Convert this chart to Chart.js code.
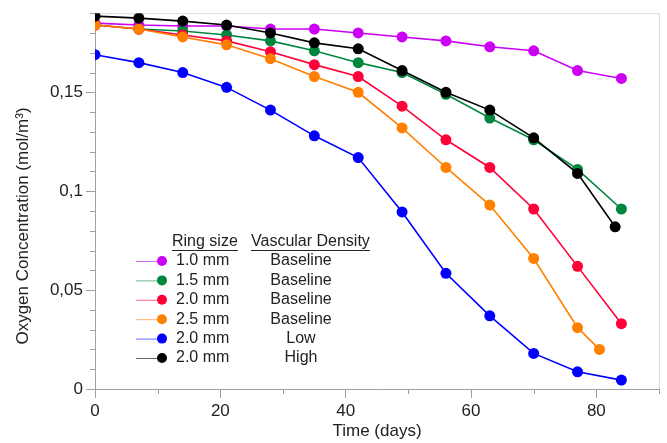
<!DOCTYPE html>
<html lang="en">
<head>
    <meta charset="UTF-8">
    <title>Oxygen Concentration</title>
    <script src="https://cdn.jsdelivr.net/npm/chart.js"></script>
    <style>
        html, body { margin: 0; padding: 0; background: #fff; }
        #wrap { width: 667px; height: 443px; }
    </style>
</head>
<body>
    <div id="wrap"><canvas id="o2Chart" width="667" height="443"></canvas></div>
    <script>
        // sampling days (a few runs stop a little early)
        const days = [0, 7, 14, 21, 28, 35, 42, 49, 56, 63, 70, 77, 84];
        const daysOrange = [0, 7, 14, 21, 28, 35, 42, 49, 56, 63, 70, 77, 80.5];
        const daysBlack = [0, 7, 14, 21, 28, 35, 42, 49, 56, 63, 70, 77, 83];

        const ring10Base = [0.185, 0.184, 0.1835, 0.1835, 0.182, 0.182, 0.180, 0.178, 0.176, 0.173, 0.171, 0.161, 0.157];
        const ring15Base = [0.184, 0.182, 0.181, 0.179, 0.176, 0.171, 0.165, 0.160, 0.149, 0.137, 0.126, 0.111, 0.091];
        const ring20Base = [0.184, 0.182, 0.179, 0.176, 0.1705, 0.164, 0.158, 0.143, 0.126, 0.112, 0.091, 0.062, 0.033];
        const ring25Base = [0.184, 0.182, 0.178, 0.174, 0.167, 0.158, 0.150, 0.132, 0.112, 0.093, 0.066, 0.031, 0.020];
        const ring20Low = [0.169, 0.165, 0.160, 0.1525, 0.141, 0.128, 0.117, 0.0895, 0.0585, 0.037, 0.018, 0.0087, 0.0045];
        const ring20High = [0.1885, 0.1875, 0.186, 0.184, 0.180, 0.175, 0.172, 0.161, 0.150, 0.141, 0.127, 0.109, 0.082];

        const ringSizes = ['1.0 mm', '1.5 mm', '2.0 mm', '2.5 mm', '2.0 mm', '2.0 mm'];
        const densities = ['Baseline', 'Baseline', 'Baseline', 'Baseline', 'Low', 'High'];
        const colors = ['#cc00f5', '#00873e', '#ff0038', '#ff8000', '#0000ff', '#000000'];

        const xTicks = [0, 20, 40, 60, 80];
        const yTicks = [0, 0.05, 0.1, 0.15];

        const seriesX = [days, days, days, daysOrange, days, daysBlack];
        const seriesY = [ring10Base, ring15Base, ring20Base, ring25Base, ring20Low, ring20High];

        const FONT = '"Liberation Sans", Arial, sans-serif';
        const AXIS = '#a0a0a0';

        // extra bits the built-in options can't do: minor ticks, light frame,
        // offset y title and the two-column legend
        const extras = {
            id: 'extras',
            beforeDatasetsDraw(chart) {
                const { ctx, chartArea: a } = chart;
                ctx.save();
                ctx.strokeStyle = '#dcdcdc';
                ctx.lineWidth = 1;
                ctx.beginPath();
                ctx.moveTo(a.left, a.top + 0.5);
                ctx.lineTo(a.right + 0.5, a.top + 0.5);
                ctx.lineTo(a.right + 0.5, a.bottom);
                ctx.stroke();

                ctx.strokeStyle = AXIS;
                const xs = chart.scales.x, ys = chart.scales.y;
                ctx.beginPath();
                for (let v = 10; v <= 90; v += 20) {
                    const px = Math.round(xs.getPixelForValue(v)) + 0.5;
                    ctx.moveTo(px, a.bottom);
                    ctx.lineTo(px, a.bottom + 5);
                }
                for (let k = 1; k <= 19; k++) {
                    if (k % 5 === 0) continue;
                    const py = Math.round(ys.getPixelForValue(k / 100)) + 0.5;
                    ctx.moveTo(a.left - 5, py);
                    ctx.lineTo(a.left, py);
                }
                ctx.stroke();

                ctx.fillStyle = '#222';
                ctx.font = '17px ' + FONT;
                ctx.textAlign = 'center';
                ctx.textBaseline = 'middle';
                ctx.translate(23, 226);
                ctx.rotate(-Math.PI / 2);
                ctx.fillText('Oxygen Concentration (mol/m³)', 0, 0);
                ctx.restore();
            },
            afterDatasetsDraw(chart) {
                const { ctx } = chart;
                ctx.save();
                ctx.font = '16px ' + FONT;
                ctx.fillStyle = '#222';
                ctx.textBaseline = 'middle';

                ctx.textAlign = 'left';
                ctx.fillText('Ring size', 172, 242);
                ctx.fillText('Vascular Density', 251, 242);
                ctx.strokeStyle = '#222';
                ctx.lineWidth = 1;
                ctx.beginPath();
                const w1 = ctx.measureText('Ring size').width;
                const w2 = ctx.measureText('Vascular Density').width;
                ctx.moveTo(172, 250.5); ctx.lineTo(172 + w1, 250.5);
                ctx.moveTo(251, 250.5); ctx.lineTo(251 + w2, 250.5);
                ctx.stroke();

                ringSizes.forEach((r, i) => {
                    const y = 261 + i * 19.4;
                    ctx.globalAlpha = 0.6;
                    ctx.strokeStyle = colors[i];
                    ctx.beginPath();
                    ctx.moveTo(136, y + 0.5);
                    ctx.lineTo(160, y + 0.5);
                    ctx.stroke();
                    ctx.globalAlpha = 1;
                    ctx.fillStyle = colors[i];
                    ctx.beginPath();
                    ctx.arc(162, y, 5, 0, Math.PI * 2);
                    ctx.fill();
                    ctx.fillStyle = '#222';
                    ctx.textAlign = 'left';
                    ctx.fillText(r, 176, y);
                    ctx.textAlign = 'center';
                    ctx.fillText(densities[i], 301, y);
                });
                ctx.restore();
            }
        };

        const datasets = seriesY.map((vals, i) => ({
            label: ringSizes[i] + ' ' + densities[i],
            data: vals.map((v, j) => ({ x: seriesX[i][j], y: v })),
            borderColor: colors[i],
            backgroundColor: colors[i],
            borderWidth: 1.6,
            pointRadius: 5.5,
            pointBorderWidth: 0,
            tension: 0,
            fill: false,
            order: seriesY.length - i
        }));

        const ctx = document.getElementById('o2Chart').getContext('2d');
        new Chart(ctx, {
            type: 'line',
            data: { datasets },
            plugins: [extras],
            options: {
                responsive: false,
                animation: false,
                events: [],
                layout: { padding: { top: 12, right: 8, left: 0, bottom: 0 } },
                plugins: { legend: { display: false }, tooltip: { enabled: false } },
                scales: {
                    x: {
                        type: 'linear',
                        min: 0,
                        max: 90,
                        afterBuildTicks: (s) => { s.ticks = xTicks.map(v => ({ value: v })); },
                        afterFit: (s) => { s.height = 54; },
                        ticks: { color: '#222', font: { family: FONT, size: 17 }, padding: 3, maxRotation: 0 },
                        grid: { drawOnChartArea: false, drawTicks: true, tickLength: 9, color: AXIS },
                        border: { color: AXIS },
                        title: { display: true, text: 'Time (days)', color: '#222', font: { family: FONT, size: 17 }, padding: { top: 0, bottom: 1 } }
                    },
                    y: {
                        min: 0,
                        max: 0.19,
                        afterBuildTicks: (s) => { s.ticks = yTicks.map(v => ({ value: v })); },
                        afterFit: (s) => { s.width = 95; },
                        ticks: {
                            color: '#222',
                            font: { family: FONT, size: 17 },
                            padding: 3,
                            callback: (v) => String(v).replace('.', ',')
                        },
                        grid: { drawOnChartArea: false, drawTicks: true, tickLength: 9, color: AXIS },
                        border: { color: AXIS }
                    }
                }
            }
        });
    </script>
</body>
</html>
